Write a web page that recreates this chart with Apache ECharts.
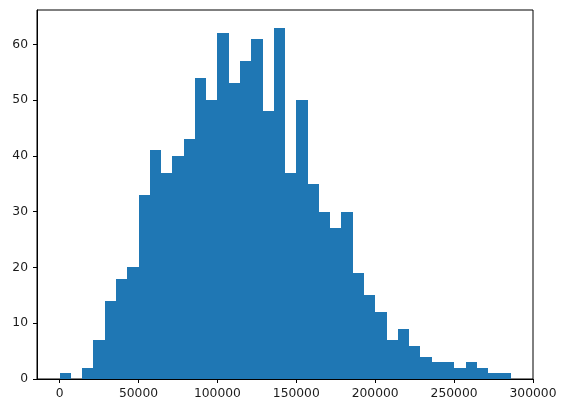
<!DOCTYPE html>
<html>
<head>
<meta charset="utf-8">
<script src="https://cdn.jsdelivr.net/npm/echarts@6/dist/echarts.min.js"></script>
<style>
html,body{margin:0;padding:0;background:#fff;}
#chart{width:569px;height:413px;}
</style>
</head>
<body>
<div id="chart"></div>
<script>
// Histogram counts (40 bins)
const counts = [1,0,2,7,14,18,20,33,41,37,40,43,54,50,62,53,57,61,48,63,37,50,35,30,27,30,19,15,12,7,9,6,4,3,3,2,3,2,1,1];
const binStart = 0;
const binWidth = 7146;
const xTicks = [0,50000,100000,150000,200000,250000,300000];
const yTicks = [0,10,20,30,40,50,60];

const bins = counts.map((c, i) => [binStart + i * binWidth, binStart + (i + 1) * binWidth, c]);

const chart = echarts.init(document.getElementById('chart'), null, {renderer: 'canvas'});
const font = 'DejaVu Sans';
chart.setOption({
  animation: false,
  grid: {left: 37, right: 36, top: 10, bottom: 34, show: true, borderColor: '#000', borderWidth: 1, backgroundColor: 'transparent'},
  xAxis: {
    type: 'value', min: -14300, max: 300000,
    splitLine: {show: false},
    axisLine: {show: true, onZero: false, lineStyle: {color: '#000', width: 1}},
    axisTick: {show: true, length: 4, inside: false, lineStyle: {color: '#000', width: 1}, customValues: xTicks},
    axisLabel: {customValues: xTicks, color: '#1a1a1a', fontFamily: font, fontSize: 12.3, margin: 9, formatter: v => String(v)}
  },
  yAxis: {
    type: 'value', min: 0, max: 66.15,
    splitLine: {show: false},
    axisLine: {show: true, onZero: false, lineStyle: {color: '#000', width: 1}},
    axisTick: {show: true, length: 4, inside: false, lineStyle: {color: '#000', width: 1}, customValues: yTicks},
    axisLabel: {customValues: yTicks, color: '#1a1a1a', fontFamily: font, fontSize: 12.3, margin: 9}
  },
  series: [{
    type: 'custom',
    data: bins,
    encode: {x: [0, 1], y: 2},
    z: 1,
    renderItem: function (params, api) {
      const p0 = api.coord([api.value(0), api.value(2)]);
      const p1 = api.coord([api.value(1), 0]);
      const x0 = Math.round(p0[0]), x1 = Math.round(p1[0]);
      const y0 = Math.round(p0[1]), y1 = Math.round(p1[1]);
      return {
        type: 'rect',
        shape: {x: x0, y: y0, width: x1 - x0, height: y1 - y0},
        style: {fill: '#1f77b4', stroke: 'transparent', lineWidth: 0},
        emphasisDisabled: true
      };
    }
  }]
});
</script>
</body>
</html>
